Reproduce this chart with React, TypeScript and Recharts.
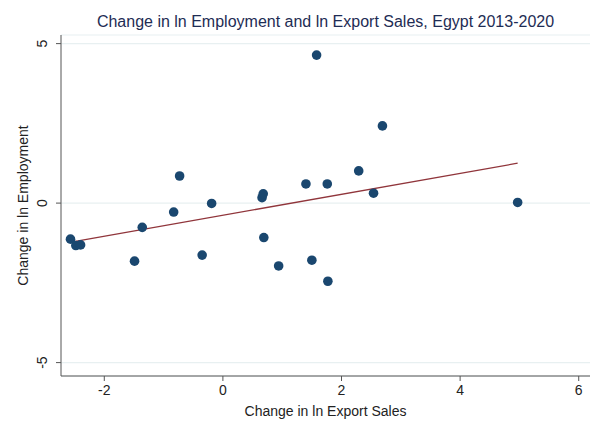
import React from 'react';
import { ScatterChart, Scatter, XAxis, YAxis, CartesianGrid, ReferenceLine } from 'recharts';

// change in ln export sales (x) vs change in ln employment (y)
const exportChange = [
    -2.57, -2.48, -2.40, -1.49, -1.36, -0.83, -0.73, -0.35, -0.19, 0.66, 0.68,
    0.69, 0.94, 1.40, 1.50, 1.58, 1.76, 1.77, 2.29, 2.54, 2.69, 4.97,
];
const employmentChange = [
    -1.13, -1.33, -1.31, -1.82, -0.76, -0.28, 0.85, -1.63, -0.01, 0.17, 0.29,
    -1.08, -1.97, 0.60, -1.79, 4.64, 0.60, -2.45, 1.01, 0.31, 2.42, 0.02,
];
const fitX = [-2.56, 4.97];
const fitY = [-1.22, 1.25];

const xTicks = [-2, 0, 2, 4, 6];
const yTicks = [-5, 0, 5];

const points = exportChange.map((x, i) => ({ x, y: employmentChange[i] }));

const font = '"Liberation Sans", Arial, sans-serif';

const YTick = (props: any) => {
    const { x, y, payload } = props;
    return (
        <text
            x={x - 7}
            y={y}
            transform={`rotate(-90, ${x - 7}, ${y})`}
            textAnchor="middle"
            fontSize={14}
            fontFamily={font}
            fill="#222"
        >
            {payload.value}
        </text>
    );
};

export default function App() {
    return (
        <div style={{ position: 'absolute', left: 0, top: 0, width: 595, height: 424, background: '#fff' }}>
            <div
                style={{
                    position: 'absolute',
                    left: 61,
                    width: 529,
                    top: 13,
                    textAlign: 'center',
                    fontFamily: font,
                    fontSize: 16,
                    color: '#1e2c54',
                }}
            >
                Change in ln Employment and ln Export Sales, Egypt 2013-2020
            </div>
            <ScatterChart width={595} height={424} margin={{ top: 35, right: 5, bottom: 0, left: 11 }}>
                <CartesianGrid vertical={false} stroke="#e8f0f1" strokeWidth={1.2} />
                <XAxis
                    type="number"
                    dataKey="x"
                    domain={[-2.73, 6.19]}
                    ticks={xTicks}
                    allowDataOverflow
                    height={48}
                    stroke="#555"
                    tickSize={5}
                    tickMargin={4}
                    tick={{ fontSize: 14, fontFamily: font, fill: '#222' }}
                    label={{
                        value: 'Change in ln Export Sales',
                        position: 'insideBottom',
                        offset: 8,
                        fontSize: 14,
                        fontFamily: font,
                        fill: '#222',
                    }}
                />
                <YAxis
                    type="number"
                    dataKey="y"
                    domain={[-5.42, 5.27]}
                    ticks={yTicks}
                    allowDataOverflow
                    width={50}
                    stroke="#555"
                    tickSize={5}
                    tick={<YTick />}
                    label={{
                        value: 'Change in ln Employment',
                        angle: -90,
                        position: 'insideLeft',
                        offset: 12,
                        fontSize: 14,
                        fontFamily: font,
                        fill: '#222',
                        style: { textAnchor: 'middle' },
                    }}
                />
                <Scatter data={points} fill="#1a476f" isAnimationActive={false} shape={(p: any) => <circle cx={p.cx} cy={p.cy} r={4.8} fill="#1a476f" />} />
                <ReferenceLine
                    segment={[
                        { x: fitX[0], y: fitY[0] },
                        { x: fitX[1], y: fitY[1] },
                    ]}
                    stroke="#90353b"
                    strokeWidth={1.3}
                />
            </ScatterChart>
        </div>
    );
}
